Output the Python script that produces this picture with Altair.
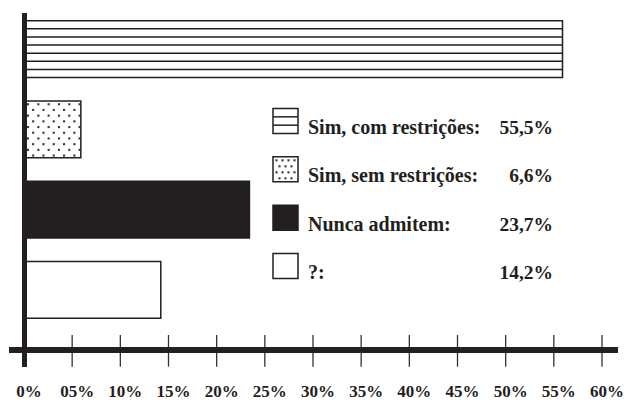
import altair as alt
import pandas as pd
import numpy as np

# ---------------- data ----------------
categories = ["Sim, com restrições", "Sim, sem restrições", "Nunca admitem", "?"]
bar_lengths = [55.9, 5.9, 23.4, 14.2]          # bar ends (%)
legend_labels = ["Sim, com restrições:", "Sim, sem restrições:", "Nunca admitem:", "?:"]
legend_shares = ["55,5%", "6,6%", "23,7%", "14,2%"]
tick_values = [0, 5, 10, 15, 20, 25, 30, 35, 40, 45, 50, 55, 60]
tick_labels = ["0%", "05%", "10%", "15%", "20%", "25%", "30%", "35%", "40%",
               "45%", "50%", "55%", "60%"]

# ---------------- style / layout ----------------
INK = "#231f20"
FONT = "Liberation Serif"
W, H = 578, 321
STEP = H / 4.0                       # pixels per category slot
HALF = 0.354                         # half bar thickness (slot units)
fills = ["#ffffff", "#ffffff", INK, "#ffffff"]


def py(p):            # plot pixel (y) -> slot units
    return p / STEP - 0.5


def px(p):            # plot pixel (x) -> percent units
    return p / W * 60.0


xs = alt.Scale(domain=[0, 60], nice=False, zero=False)
ys = alt.Scale(domain=[-0.5, 3.5], reverse=True, nice=False, zero=False)

bars = pd.DataFrame({"cat": categories, "idx": range(4), "len": bar_lengths, "fill": fills})
bars["x0"] = 0.0
bars["y0"] = bars["idx"] - HALF
bars["y1"] = bars["idx"] + HALF

# horizontal hatch lines inside first bar
hatch_rows = []
b0 = bars.iloc[0]
for k in range(1, 7):
    hatch_rows.append({"x0": 0.0, "x1": b0["len"], "y": b0["y0"] + k * (2 * HALF / 7)})
hatch = pd.DataFrame(hatch_rows)

# dotted pattern inside second bar
dot_rows = []
b1 = bars.iloc[1]
for r in range(10):
    yy = b1["y0"] + (3.3 + 5.7 * r) / STEP
    xx = 0.42 + (r % 2) * 0.53
    while xx < b1["len"] - 0.1:
        dot_rows.append({"x": xx, "y": yy})
        xx += 1.07
dots = pd.DataFrame(dot_rows)

# legend
leg = pd.DataFrame({"label": legend_labels, "share": legend_shares, "r": range(4), "fill": fills})
leg["yc"] = [py(112 + 48.33 * r) for r in range(4)]
leg["ytop"] = leg["yc"] - 12.5 / STEP
leg["ybot"] = leg["yc"] + 12.5 / STEP
leg["ytxt"] = leg["ybot"] + 0.5 / STEP

l0 = leg.iloc[0]
leg_hatch = pd.DataFrame({"y": [l0["ytop"] + (l0["ybot"] - l0["ytop"]) * f for f in (1 / 3, 2 / 3)]})

l1 = leg.iloc[1]
ldot_rows = []
for r in range(4):
    yy = l1["ytop"] + (3.5 + 6 * r) / STEP
    xp = 252.5 + (r % 2) * 3
    while xp < 273:
        ldot_rows.append({"x": px(xp), "y": yy})
        xp += 6
ldots = pd.DataFrame(ldot_rows)

ticks = pd.DataFrame({"t": tick_values, "lab": tick_labels})

# ---------------- layers ----------------
bar_layer = alt.Chart(bars).mark_rect(stroke=INK, strokeWidth=1.5).encode(
    x=alt.X("x0:Q", scale=xs, axis=None),
    x2="len:Q",
    y=alt.Y("y0:Q", scale=ys, axis=None),
    y2="y1:Q",
    fill=alt.Fill("fill:N", scale=None),
)

hatch_layer = alt.Chart(hatch).mark_rule(color=INK, strokeWidth=1.5).encode(
    x=alt.X("x0:Q", scale=xs, axis=None), x2="x1:Q",
    y=alt.Y("y:Q", scale=ys, axis=None),
)

dot_layer = alt.Chart(dots).mark_square(color="#3a3a3a", size=4.5, opacity=1).encode(
    x=alt.X("x:Q", scale=xs, axis=None),
    y=alt.Y("y:Q", scale=ys, axis=None),
)

tick_layer = alt.Chart(ticks).mark_rule(color="#333333", strokeWidth=1.3).encode(
    x=alt.X("t:Q", scale=xs, axis=None),
    y=alt.value(326), y2=alt.value(357.7),
)

tick_text = alt.Chart(ticks).mark_text(
    font=FONT, fontWeight="bold", fontSize=17, color=INK, baseline="alphabetic", dx=5
).encode(
    x=alt.X("t:Q", scale=xs, axis=None), y=alt.value(388), text="lab:N",
)

h_axis = alt.Chart(ticks).mark_rule(color=INK, strokeWidth=4.5).encode(
    x=alt.value(-15), x2=alt.value(594), y=alt.value(341),
)
v_axis = alt.Chart(ticks).mark_rule(color=INK, strokeWidth=4).encode(
    x=alt.value(0.7), y=alt.value(4), y2=alt.value(357.7),
)

leg_box = alt.Chart(leg).mark_rect(stroke=INK, strokeWidth=1.5).encode(
    x=alt.value(249), x2=alt.value(274),
    y=alt.Y("ytop:Q", scale=ys, axis=None), y2="ybot:Q",
    fill=alt.Fill("fill:N", scale=None),
)
leg_hatch_layer = alt.Chart(leg_hatch).mark_rule(color=INK, strokeWidth=1.5).encode(
    x=alt.value(249), x2=alt.value(274), y=alt.Y("y:Q", scale=ys, axis=None),
)
leg_dot_layer = alt.Chart(ldots).mark_square(color="#3a3a3a", size=4.5, opacity=1).encode(
    x=alt.X("x:Q", scale=xs, axis=None), y=alt.Y("y:Q", scale=ys, axis=None),
)
leg_text = alt.Chart(leg).mark_text(
    font=FONT, fontWeight="bold", fontSize=20, color=INK, align="left", baseline="alphabetic"
).encode(
    x=alt.value(284), y=alt.Y("ytxt:Q", scale=ys, axis=None), text="label:N",
)
leg_vals = alt.Chart(leg).mark_text(
    font=FONT, fontWeight="bold", fontSize=19.5, color=INK, align="right", baseline="alphabetic"
).encode(
    x=alt.value(529), y=alt.Y("ytxt:Q", scale=ys, axis=None), text="share:N",
)

chart = alt.layer(
    bar_layer, hatch_layer, dot_layer, tick_layer, h_axis, v_axis, tick_text,
    leg_box, leg_hatch_layer, leg_dot_layer, leg_text, leg_vals,
).properties(
    width=W, height=H,
    autosize=alt.AutoSizeParams(type="none"),
    padding={"left": 16, "top": 1, "right": 27, "bottom": 70},
    background="white",
).configure_view(strokeWidth=0)

chart.save("out.html", embed_options={"renderer": "svg", "actions": False})
